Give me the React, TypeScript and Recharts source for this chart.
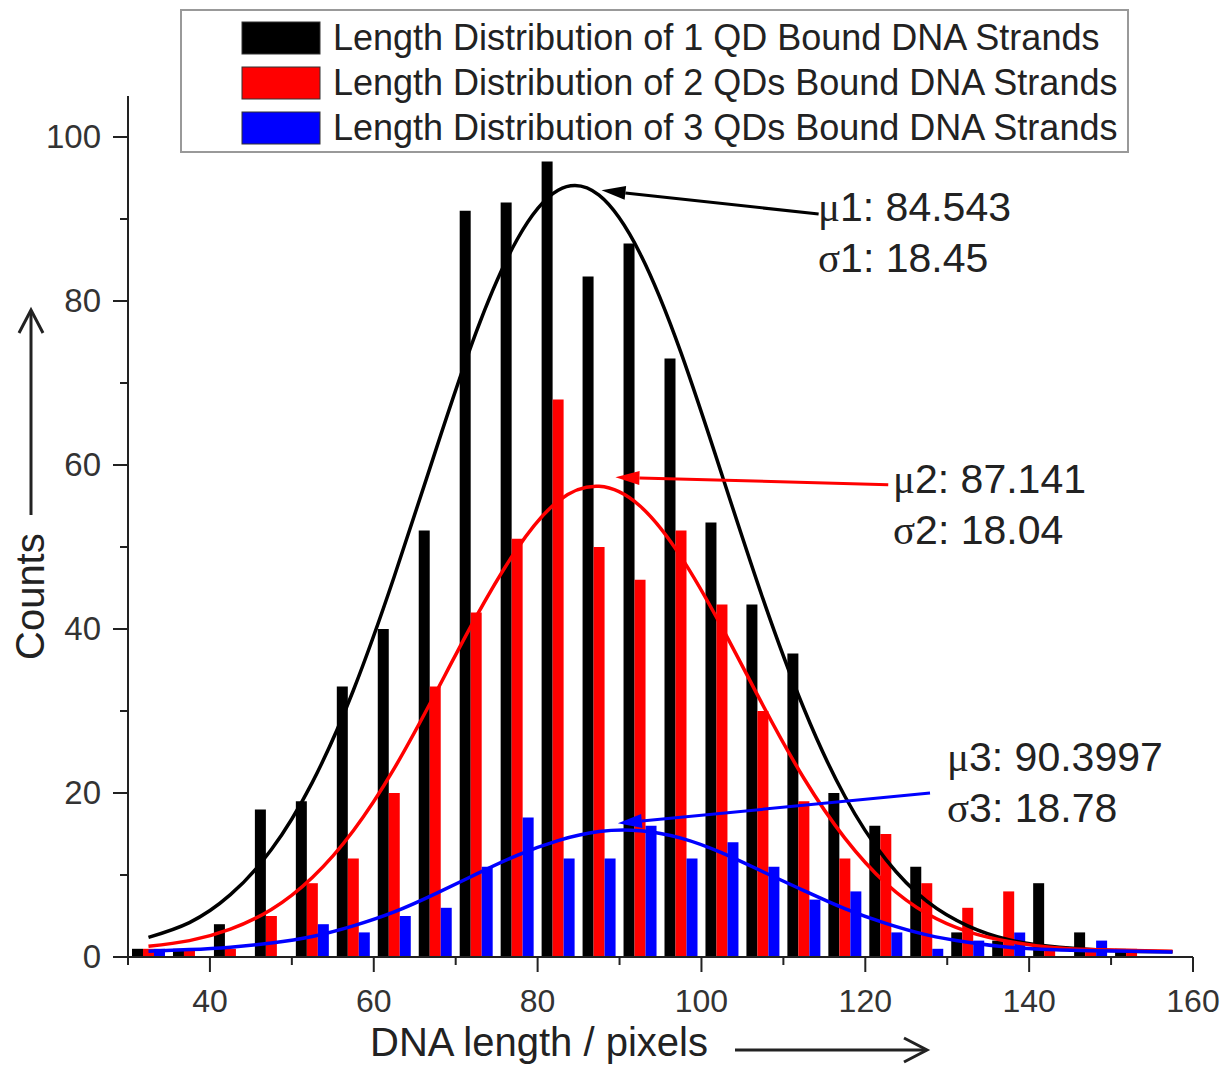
import { ComposedChart, Bar, Line, XAxis, YAxis, ReferenceLine } from 'recharts'

// bin centres (group centre of the three bars)
const binCenters = [32.5, 37.5, 42.5, 47.5, 52.5, 57.5, 62.5, 67.5, 72.5, 77.5, 82.5, 87.5, 92.5, 97.5, 102.5, 107.5, 112.5, 117.5, 122.5, 127.5, 132.5, 137.5, 142.5, 147.5, 152.5, 157.5]

// counts
const oneQD = [1, 1, 4, 18, 19, 33, 40, 52, 91, 92, 97, 83, 87, 73, 53, 43, 37, 20, 16, 11, 3, 2, 9, 3, 1, null]
const twoQD = [1, 1, 1, 5, 9, 12, 20, 33, 42, 51, 68, 50, 46, 52, 43, 30, 19, 12, 15, 9, 6, 8, 1, 1, 1, null]
const threeQD = [1, 0, 0, 0, 4, 3, 5, 6, 11, 17, 12, 12, 16, 12, 14, 11, 7, 8, 3, 1, 2, 3, 0, 2, 0, null]

// fitted curves, read at the bin centres
const fit1 = [2.4, 4.2, 7.6, 13.1, 21.3, 32.5, 46.4, 61.6, 76.2, 87.5, 93.5, 92.9, 85.8, 73.7, 58.8, 43.7, 30.3, 19.6, 11.9, 6.8, 3.8, 2.1, 1.3, 0.9, 0.7, 0.65]
const fit2 = [1.3, 2.0, 3.4, 5.8, 9.7, 15.4, 23.0, 32.1, 41.5, 49.8, 55.6, 57.4, 55.0, 48.8, 40.2, 30.7, 21.8, 14.5, 9.0, 5.3, 3.1, 1.9, 1.2, 0.9, 0.8, 0.7]
const fit3 = [0.7, 0.9, 1.2, 1.7, 2.5, 3.8, 5.5, 7.7, 10.1, 12.4, 14.2, 15.3, 15.4, 14.5, 12.7, 10.4, 8.1, 5.9, 4.1, 2.7, 1.8, 1.2, 0.9, 0.75, 0.7, 0.6]

const xTicks = [30, 40, 50, 60, 70, 80, 90, 100, 110, 120, 130, 140, 150, 160]
const xLabels = [40, 60, 80, 100, 120, 140, 160]
const yTicks = [0, 10, 20, 30, 40, 50, 60, 70, 80, 90, 100]
const yLabels = [0, 20, 40, 60, 80, 100]

const seriesNames = [
  'Length Distribution of 1 QD Bound DNA Strands',
  'Length Distribution of 2 QDs Bound DNA Strands',
  'Length Distribution of 3 QDs Bound DNA Strands',
]
const colors = ['#000000', '#ff0000', '#0000ff']

const fits = [
  { idx: '1', mu: '84.543', sig: '18.45' },
  { idx: '2', mu: '87.141', sig: '18.04' },
  { idx: '3', mu: '90.3997', sig: '18.78' },
]

// arrows from the fit labels to the curve peaks, in data coords [from, to]
const arrows = [
  [{ x: 114.3, y: 90.6 }, { x: 87.8, y: 93.5 }],
  [{ x: 122.8, y: 57.6 }, { x: 89.5, y: 58.5 }],
  [{ x: 127.9, y: 20.0 }, { x: 89.8, y: 16.3 }],
]

const data = binCenters.map((x, i) => ({
  x,
  one: oneQD[i],
  two: twoQD[i],
  three: threeQD[i],
  f1: fit1[i],
  f2: fit2[i],
  f3: fit3[i],
}))

const FONT = '"Liberation Sans", Arial, sans-serif'
const SERIF = '"Liberation Serif", "DejaVu Serif", serif'

const XTick = ({ x, y, payload }: any) => {
  const major = xLabels.includes(payload.value)
  return (
    <g>
      <line x1={x} x2={x} y1={y} y2={y + (major ? 15 : 8)} stroke="#222" strokeWidth={2} />
      {major && (
        <text x={x} y={y + 55} textAnchor="middle" fontSize={32} fill="#333" fontFamily={FONT}>
          {payload.value}
        </text>
      )}
    </g>
  )
}

const YTick = ({ x, y, payload }: any) => {
  const major = yLabels.includes(payload.value)
  return (
    <g>
      <line x1={x - (major ? 15 : 8)} x2={x} y1={y} y2={y} stroke="#222" strokeWidth={2} />
      {major && (
        <text x={x - 27} y={y + 11} textAnchor="end" fontSize={33} fill="#333" fontFamily={FONT}>
          {payload.value}
        </text>
      )}
    </g>
  )
}

const arrowShape = (stroke: string) => (props: any) => {
  const { x1, y1, x2, y2 } = props
  const ang = Math.atan2(y2 - y1, x2 - x1)
  const L = 24
  const W = 7
  const bx = x2 - L * Math.cos(ang)
  const by = y2 - L * Math.sin(ang)
  const px = -Math.sin(ang) * W
  const py = Math.cos(ang) * W
  return (
    <g>
      <line x1={x1} y1={y1} x2={bx} y2={by} stroke={stroke} strokeWidth={3} />
      <polygon points={`${x2},${y2} ${bx + px},${by + py} ${bx - px},${by - py}`} fill={stroke} />
    </g>
  )
}

export default function App() {
  const textPos = [
    { x: 818, y: 221 },
    { x: 893, y: 493 },
    { x: 947, y: 771 },
  ]
  return (
    <div style={{ position: 'absolute', left: 0, top: 0, width: 1230, height: 1070, background: '#fff' }}>
      <ComposedChart
        width={1230}
        height={1070}
        data={data}
        margin={{ top: 96, right: 37, bottom: 0, left: 0 }}
        barGap={0}
      >
        <XAxis
          dataKey="x"
          type="number"
          domain={[30, 160]}
          ticks={xTicks}
          interval={0}
          height={113}
          tickSize={0}
          tickMargin={0}
          tickLine={false}
          axisLine={{ stroke: '#222', strokeWidth: 2 }}
          tick={<XTick />}
        />
        <YAxis
          type="number"
          domain={[0, 105]}
          ticks={yTicks}
          interval={0}
          width={128}
          tickSize={0}
          tickMargin={0}
          tickLine={false}
          axisLine={{ stroke: '#222', strokeWidth: 2 }}
          tick={<YTick />}
        />
        <Bar dataKey="one" fill={colors[0]} barSize={11} isAnimationActive={false} />
        <Bar dataKey="two" fill={colors[1]} barSize={11} isAnimationActive={false} />
        <Bar dataKey="three" fill={colors[2]} barSize={11} isAnimationActive={false} />
        <Line dataKey="f1" type="natural" stroke={colors[0]} strokeWidth={3.5} dot={false} isAnimationActive={false} />
        <Line dataKey="f2" type="natural" stroke={colors[1]} strokeWidth={3.5} dot={false} isAnimationActive={false} />
        <Line dataKey="f3" type="natural" stroke={colors[2]} strokeWidth={3.5} dot={false} isAnimationActive={false} />
        {arrows.map((seg, i) => (
          <ReferenceLine key={i} segment={seg} stroke={colors[i]} shape={arrowShape(colors[i])} />
        ))}
      </ComposedChart>

      <svg
        width={1230}
        height={1070}
        style={{ position: 'absolute', left: 0, top: 0, pointerEvents: 'none' }}
      >
        {/* legend */}
        <rect x={181} y={10} width={947} height={142} fill="#fff" stroke="#999" strokeWidth={2} />
        {seriesNames.map((name, i) => (
          <g key={name}>
            <rect x={242} y={22 + i * 45} width={78} height={32} fill={colors[i]} stroke="#333" strokeWidth={1} />
            <text x={333} y={50 + i * 45} fontSize={36} fill="#222" fontFamily={FONT}>
              {name}
            </text>
          </g>
        ))}

        {/* fit annotations */}
        {fits.map((f, i) => (
          <g key={i} fontSize={41} fill="#222" fontFamily={FONT}>
            <text x={textPos[i].x} y={textPos[i].y}>
              <tspan fontFamily={SERIF}>μ</tspan>
              {f.idx}: {f.mu}
            </text>
            <text x={textPos[i].x} y={textPos[i].y + 51}>
              <tspan fontFamily={SERIF}>σ</tspan>
              {f.idx}: {f.sig}
            </text>
          </g>
        ))}

        {/* axis titles */}
        <text x={370} y={1056} fontSize={40} fill="#222" fontFamily={FONT}>
          DNA length / pixels
        </text>
        <line x1={735} y1={1050} x2={926} y2={1050} stroke="#222" strokeWidth={3} />
        <polyline points="904,1038 927,1050 904,1062" fill="none" stroke="#222" strokeWidth={3} />

        <text
          x={0}
          y={0}
          transform="translate(44, 660) rotate(-90)"
          fontSize={40}
          fill="#222"
          fontFamily={FONT}
        >
          Counts
        </text>
        <line x1={31} y1={515} x2={31} y2={311} stroke="#222" strokeWidth={3} />
        <polyline points="19,333 31,310 43,333" fill="none" stroke="#222" strokeWidth={3} />
      </svg>
    </div>
  )
}
